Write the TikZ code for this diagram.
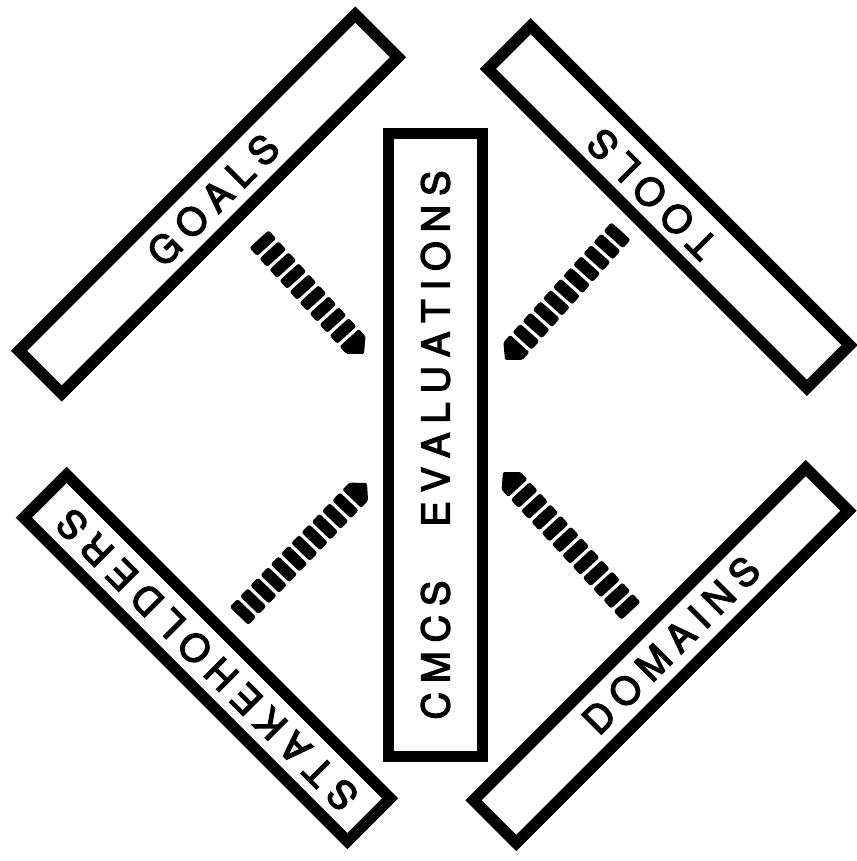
\documentclass[tikz,border=0pt]{standalone}
\usepackage{fontspec}
\setmainfont{TeX Gyre Heros}
\newfontfamily\labfont{TeX Gyre Heros}[FakeBold=3.5]
\usetikzlibrary{calc}
\newdimen\lspk \lspk=9pt
\newcommand\lsp[1]{\lspaux#1\relax}
\def\lspaux#1{\ifx#1\relax\unkern\else#1\kern\lspk\expandafter\lspaux\fi}
\tikzset{
  box/.style={draw, line width=11.5pt, rectangle, inner sep=0pt},
  lbl/.style={inner sep=0pt, font=\labfont\fontsize{38}{40}\selectfont},
  blk/.style={fill=black, rounded corners=2.5pt},
}
% thick block-dashed connector with pointed end, from coordinate #1 to #2
\newcommand\conbar[2]{%
  \path let \p1=(#1), \p2=(#2), \n1={atan2(\y2-\y1,\x2-\x1)},
    \n2={veclen(\x2-\x1,\y2-\y1)} in
    \pgfextra{\xdef\cbang{\n1}\xdef\cblen{\n2}};
  \pgfmathtruncatemacro\cbn{round((\cblen-22)/15)}
  \pgfmathsetmacro\cbp{(\cblen-22)/\cbn}
  \begin{scope}[shift={(#1)}, rotate=\cbang]
    \foreach \i in {1,...,\cbn}
      {\path[blk] ({(\i-1)*\cbp},-13) rectangle ({\i*\cbp-3.5},13);}
    \path[blk, rounded corners=1.5pt] ({\cbn*\cbp},-13) -- ({\cblen-12},-13) -- ({\cblen},0)
      -- ({\cblen-12},13) -- ({\cbn*\cbp},13) -- cycle;
  \end{scope}}
\begin{document}
\begin{tikzpicture}[x=1pt,y=-1pt]
\fill[white] (0,0) rectangle (856,861);
\useasboundingbox (0,0) rectangle (856,861);
% central box
\node[box, line width=11pt, rotate=90, minimum width=623pt, minimum height=94pt] (eval) at (435.5,445) {};
\node[lbl, rotate=90] (evalT) at (eval.center)
  {\lsp{CMCS}\hspace{54pt}\lsp{EVALUATIONS}};
% diagonal boxes
\node[box, rotate=45, minimum width=475.5pt, minimum height=60.5pt] (goals) at (208.5,204) {};
\node[box, rotate=135, minimum width=451pt, minimum height=60.5pt] (tools) at (668.75,207) {};
\node[box, rotate=135, minimum width=457.5pt, minimum height=60.5pt] (stake) at (207,658) {};
\node[box, rotate=45, minimum width=470pt, minimum height=60.5pt] (domains) at (661,655.5) {};
% labels
\node[lbl, rotate=45] (goalsT) at (213,200) {\lsp{GOALS}};
\node[lbl, rotate=135] (toolsT) at (652,194) {\lsp{TOOLS}};
\node[lbl, rotate=135] (stakeT) at (207,660) {\lsp{STAKEHOLDERS}};
\node[lbl, rotate=45] (domainsT) at (671,645) {\lsp{DOMAINS}};
% connectors
\coordinate (g1) at (259,239); \coordinate (g2) at (364,354);
\coordinate (t1) at (621,231); \coordinate (t2) at (505,360);
\coordinate (s1) at (239,616); \coordinate (s2) at (367,483);
\coordinate (d1) at (631,611); \coordinate (d2) at (503,472);
\conbar{g1}{g2}
\conbar{t1}{t2}
\conbar{s1}{s2}
\conbar{d1}{d2}
\end{tikzpicture}
\end{document}
